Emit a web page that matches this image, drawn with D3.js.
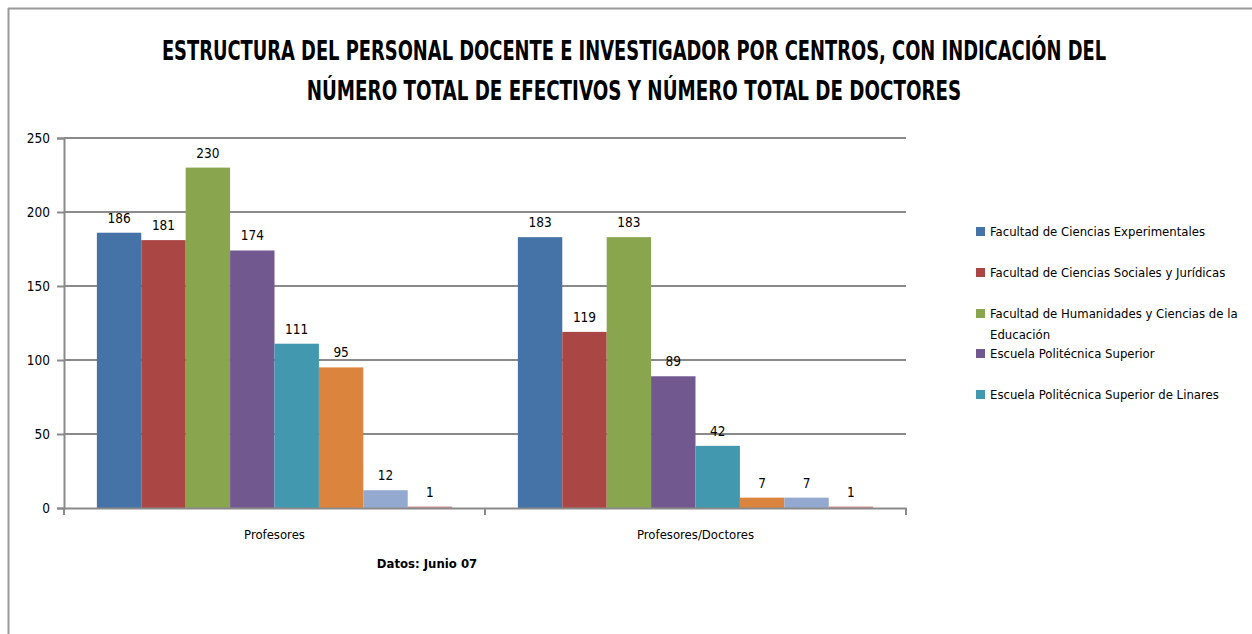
<!DOCTYPE html>
<html>
<head>
<meta charset="utf-8">
<script src="https://cdn.jsdelivr.net/npm/d3@7"></script>
<style>
  body { margin: 0; background: #fff; }
  svg text { font-family: "Liberation Sans Narrow", "DejaVu Sans Condensed", "Roboto Condensed", sans-serif; fill: #000; }
</style>
</head>
<body>
<div id="main"></div>
<script>
// data
const categories = ['Profesores', 'Profesores/Doctores'];
const centros = [
  'Facultad de Ciencias Experimentales',
  'Facultad de Ciencias Sociales y Jurídicas',
  'Facultad de Humanidades y Ciencias de la Educación',
  'Escuela Politécnica Superior',
  'Escuela Politécnica Superior de Linares',
  'Centro 6',
  'Centro 7',
  'Centro 8'
];
const profesores = [186, 181, 230, 174, 111, 95, 12, 1];
const doctores = [183, 119, 183, 89, 42, 7, 7, 1];
const colors = ['#4572A7', '#AA4643', '#89A54E', '#71588F', '#4198AF', '#DB843D', '#93A9CF', '#D19392'];
const yTicks = [0, 50, 100, 150, 200, 250];
const titleLines = [
  'ESTRUCTURA DEL PERSONAL DOCENTE E INVESTIGADOR POR CENTROS, CON INDICACIÓN DEL',
  'NÚMERO TOTAL DE EFECTIVOS Y NÚMERO TOTAL DE DOCTORES'
];
const legendShown = 5;  // the legend box in the original only fits the first five

const W = 1252, H = 634;
const margin = { top: 138, right: 346, bottom: 126, left: 64 };
const width = W - margin.left - margin.right;
const height = H - margin.top - margin.bottom;

const series = [profesores, doctores];

const svg = d3.select('#main').append('svg')
  .attr('width', W)
  .attr('height', H);

// frame (only top and left edge visible in the reference)
svg.append('line').attr('x1', 8).attr('x2', W).attr('y1', 8.5).attr('y2', 8.5)
  .attr('stroke', '#9a9a9a').attr('stroke-width', 2);
svg.append('line').attr('x1', 8.5).attr('x2', 8.5).attr('y1', 8).attr('y2', H)
  .attr('stroke', '#9a9a9a').attr('stroke-width', 2);

// title: condensed by scaling each line to the width it has in the original
const titleW = [945, 655];
titleLines.forEach((line, i) => {
  const tg = svg.append('g');
  const t = tg.append('text')
    .attr('class', 'title')
    .attr('x', 0)
    .attr('y', 0)
    .attr('text-anchor', 'middle')
    .attr('font-size', 26)
    .attr('font-weight', 'bold')
    .text(line);
  const natural = t.node().getComputedTextLength();
  const sx = Math.min(1, titleW[i] / natural);
  tg.attr('transform', 'translate(634,' + (60 + i * 40) + ') scale(' + sx + ',1)');
});

const g = svg.append('g')
  .attr('transform', 'translate(' + margin.left + ',' + margin.top + ')');

const x0 = d3.scaleBand()
  .domain(categories)
  .range([0, width]);

const x1 = d3.scaleBand()
  .domain(d3.range(centros.length))
  .range([0, x0.bandwidth()])
  .paddingOuter(0.74);

const y = d3.scaleLinear()
  .domain([0, 250])
  .range([height, 0]);

// gridlines
g.selectAll('.grid')
  .data(yTicks.slice(1))
.enter().append('line')
  .attr('class', 'grid')
  .attr('x1', 0).attr('x2', width)
  .attr('y1', d => y(d)).attr('y2', d => y(d))
  .attr('stroke', '#8a8a8a')
  .attr('stroke-width', 2);

// bars
const groups = g.selectAll('.cat')
  .data(categories)
.enter().append('g')
  .attr('class', 'cat')
  .attr('transform', d => 'translate(' + x0(d) + ',0)');

groups.selectAll('.bar')
  .data((d, ci) => series[ci].map((v, i) => ({ v: v, i: i })))
.enter().append('rect')
  .attr('class', 'bar')
  .attr('x', d => x1(d.i))
  .attr('width', x1.bandwidth())
  .attr('y', d => y(d.v))
  .attr('height', d => height - y(d.v))
  .attr('fill', d => colors[d.i]);

groups.selectAll('.val')
  .data((d, ci) => series[ci].map((v, i) => ({ v: v, i: i })))
.enter().append('text')
  .attr('class', 'val')
  .attr('x', d => x1(d.i) + x1.bandwidth() / 2)
  .attr('y', d => y(d.v) - 10)
  .attr('text-anchor', 'middle')
  .attr('font-size', 13.5)
  .text(d => d.v);

// y axis
const yAxis = g.append('g')
  .call(d3.axisLeft(y).tickValues(yTicks).tickSize(7).tickPadding(7));
yAxis.select('.domain').attr('stroke', '#8a8a8a').attr('stroke-width', 2);
yAxis.selectAll('.tick line').attr('stroke', '#8a8a8a').attr('stroke-width', 2);
yAxis.selectAll('.tick text').attr('font-size', 13.5).attr('font-family', null);

// x axis
const xAxis = g.append('g')
  .attr('transform', 'translate(0,' + height + ')')
  .call(d3.axisBottom(x0).tickSize(0).tickPadding(22));
xAxis.select('.domain').attr('stroke', '#8a8a8a').attr('stroke-width', 2);
xAxis.selectAll('.tick text').attr('font-size', 13).attr('font-family', null);
g.append('g')
  .selectAll('line')
  .data([0, width / 2, width])
.enter().append('line')
  .attr('x1', d => d).attr('x2', d => d)
  .attr('y1', height).attr('y2', height + 7)
  .attr('stroke', '#8a8a8a').attr('stroke-width', 2);

svg.append('text')
  .attr('x', 427)
  .attr('y', 568)
  .attr('text-anchor', 'middle')
  .attr('font-size', 13)
  .attr('font-weight', 'bold')
  .text('Datos: Junio 07');

// legend
const legend = svg.append('g')
  .attr('transform', 'translate(976,0)');
const legendY = [231, 272, 313, 353, 394];
const items = legend.selectAll('.leg')
  .data(centros.slice(0, legendShown))
.enter().append('g')
  .attr('class', 'leg')
  .attr('transform', (d, i) => 'translate(0,' + legendY[i] + ')');
items.append('rect')
  .attr('x', 0).attr('y', -4)
  .attr('width', 9).attr('height', 9)
  .attr('fill', (d, i) => colors[i]);
items.each(function(d) {
  const t = d3.select(this).append('text')
    .attr('x', 14)
    .attr('y', 5)
    .attr('font-size', 13);
  // wrap the long one the way the original legend does
  if (d.length > 45) {
    t.append('tspan').attr('x', 14).text('Facultad de Humanidades y Ciencias de la');
    t.append('tspan').attr('x', 14).attr('dy', 21).text('Educación');
  } else {
    t.text(d);
  }
});
</script>
</body>
</html>
